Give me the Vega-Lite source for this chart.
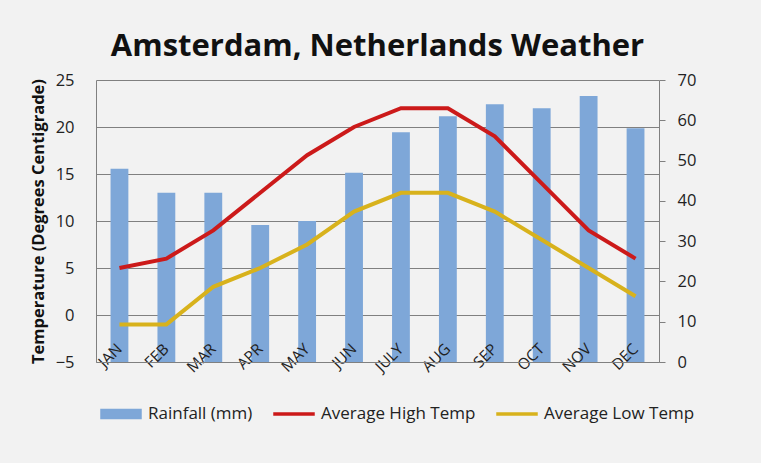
{
  "$schema": "https://vega.github.io/schema/vega-lite/v6.json",
  "autosize": {"type": "none"},
  "width": 563,
  "height": 282,
  "padding": {"left": 96, "top": 80, "right": 102, "bottom": 101},
  "background": "#f2f2f2",
  "title": {
    "text": "Amsterdam, Netherlands Weather",
    "font": "Open Sans",
    "fontSize": 31,
    "fontWeight": "bold",
    "color": "#111111",
    "anchor": "middle",
    "offset": 9
  },
  "config": {
    "font": "Open Sans",
    "view": {"stroke": null},
    "axis": {
      "labelFont": "Open Sans",
      "titleFont": "Open Sans",
      "labelColor": "#222222",
      "titleColor": "#111111",
      "domainColor": "#808080",
      "gridColor": "#808080",
      "tickColor": "#808080",
      "gridOpacity": 1
    },
    "legend": {
      "orient": "none",
      "legendX": 4,
      "legendY": 313,
      "direction": "horizontal",
      "labelFont": "Open Sans",
      "labelFontSize": 17,
      "labelColor": "#222222",
      "symbolSize": 1600,
      "labelOffset": 6,
      "columnPadding": 18
    }
  },
  "data": {
    "values": [
      {"month": "JAN", "series": "Rainfall (mm)", "value": 48},
      {"month": "FEB", "series": "Rainfall (mm)", "value": 42},
      {"month": "MAR", "series": "Rainfall (mm)", "value": 42},
      {"month": "APR", "series": "Rainfall (mm)", "value": 34},
      {"month": "MAY", "series": "Rainfall (mm)", "value": 35},
      {"month": "JUN", "series": "Rainfall (mm)", "value": 47},
      {"month": "JULY", "series": "Rainfall (mm)", "value": 57},
      {"month": "AUG", "series": "Rainfall (mm)", "value": 61},
      {"month": "SEP", "series": "Rainfall (mm)", "value": 64},
      {"month": "OCT", "series": "Rainfall (mm)", "value": 63},
      {"month": "NOV", "series": "Rainfall (mm)", "value": 66},
      {"month": "DEC", "series": "Rainfall (mm)", "value": 58},
      {"month": "JAN", "series": "Average High Temp", "value": 5},
      {"month": "FEB", "series": "Average High Temp", "value": 6},
      {"month": "MAR", "series": "Average High Temp", "value": 9},
      {"month": "APR", "series": "Average High Temp", "value": 13},
      {"month": "MAY", "series": "Average High Temp", "value": 17},
      {"month": "JUN", "series": "Average High Temp", "value": 20},
      {"month": "JULY", "series": "Average High Temp", "value": 22},
      {"month": "AUG", "series": "Average High Temp", "value": 22},
      {"month": "SEP", "series": "Average High Temp", "value": 19},
      {"month": "OCT", "series": "Average High Temp", "value": 14},
      {"month": "NOV", "series": "Average High Temp", "value": 9},
      {"month": "DEC", "series": "Average High Temp", "value": 6},
      {"month": "JAN", "series": "Average Low Temp", "value": -1},
      {"month": "FEB", "series": "Average Low Temp", "value": -1},
      {"month": "MAR", "series": "Average Low Temp", "value": 3},
      {"month": "APR", "series": "Average Low Temp", "value": 5},
      {"month": "MAY", "series": "Average Low Temp", "value": 7.5},
      {"month": "JUN", "series": "Average Low Temp", "value": 11},
      {"month": "JULY", "series": "Average Low Temp", "value": 13},
      {"month": "AUG", "series": "Average Low Temp", "value": 13},
      {"month": "SEP", "series": "Average Low Temp", "value": 11},
      {"month": "OCT", "series": "Average Low Temp", "value": 8},
      {"month": "NOV", "series": "Average Low Temp", "value": 5},
      {"month": "DEC", "series": "Average Low Temp", "value": 2}
    ]
  },
  "encoding": {
    "x": {
      "field": "month",
      "type": "ordinal",
      "sort": null,
      "title": null,
      "scale": {
        "domain": ["JAN", "FEB", "MAR", "APR", "MAY", "JUN", "JULY", "AUG", "SEP", "OCT", "NOV", "DEC"],
        "paddingInner": 0.62,
        "paddingOuter": 0.31
      },
      "axis": {
        "zindex": 1,
        "labelAngle": -45,
        "labelAlign": "right",
        "labelBaseline": "middle",
        "labelPadding": -16,
        "labelFontSize": 15.5,
        "labelOverlap": false,
        "labelBound": false,
        "ticks": false,
        "domain": true
      }
    },
    "color": {
      "field": "series",
      "type": "nominal",
      "scale": {
        "domain": ["Rainfall (mm)", "Average High Temp", "Average Low Temp"],
        "range": ["#7ea7d8", "#cc1a1a", "#d8b21c"]
      },
      "legend": {
        "title": null,
        "encode": {
          "symbols": {
            "update": {
              "shape": {"signal": "datum.value === 'Rainfall (mm)' ? 'M-1,-0.22H1V0.22H-1Z' : 'M-1,-0.045H1V0.045H-1Z'"},
              "fill": {"scale": "color", "field": "value"},
              "stroke": {"value": "transparent"},
              "opacity": {"value": 1}
            }
          }
        }
      }
    }
  },
  "layer": [
    {
      "transform": [{"filter": "datum.series === 'Rainfall (mm)'"}],
      "mark": {"type": "bar"},
      "encoding": {
        "y": {
          "field": "value",
          "type": "quantitative",
          "title": null,
          "scale": {"domain": [0, 70], "nice": false, "zero": true},
          "axis": {
            "orient": "right",
            "values": [0, 10, 20, 30, 40, 50, 60, 70],
            "grid": false,
            "ticks": true,
            "tickSize": 6,
            "labelPadding": 12,
            "labelFontSize": 16.5,
            "domain": true
          }
        }
      }
    },
    {
      "transform": [{"filter": "datum.series !== 'Rainfall (mm)'"}],
      "mark": {"type": "line", "strokeWidth": 4},
      "encoding": {
        "y": {
          "field": "value",
          "type": "quantitative",
          "title": "Temperature (Degrees Centigrade)",
          "scale": {"domain": [-5, 25], "nice": false, "zero": false},
          "axis": {
            "orient": "left",
            "values": [-5, 0, 5, 10, 15, 20, 25],
            "grid": true,
            "ticks": false,
            "labelPadding": 22,
            "labelFontSize": 16.5,
            "titleFontSize": 16.5,
            "titleFontWeight": "bold",
            "titlePadding": 9,
            "domain": true
          }
        }
      }
    }
  ],
  "resolve": {"scale": {"y": "independent"}, "axis": {"y": "independent"}}
}
